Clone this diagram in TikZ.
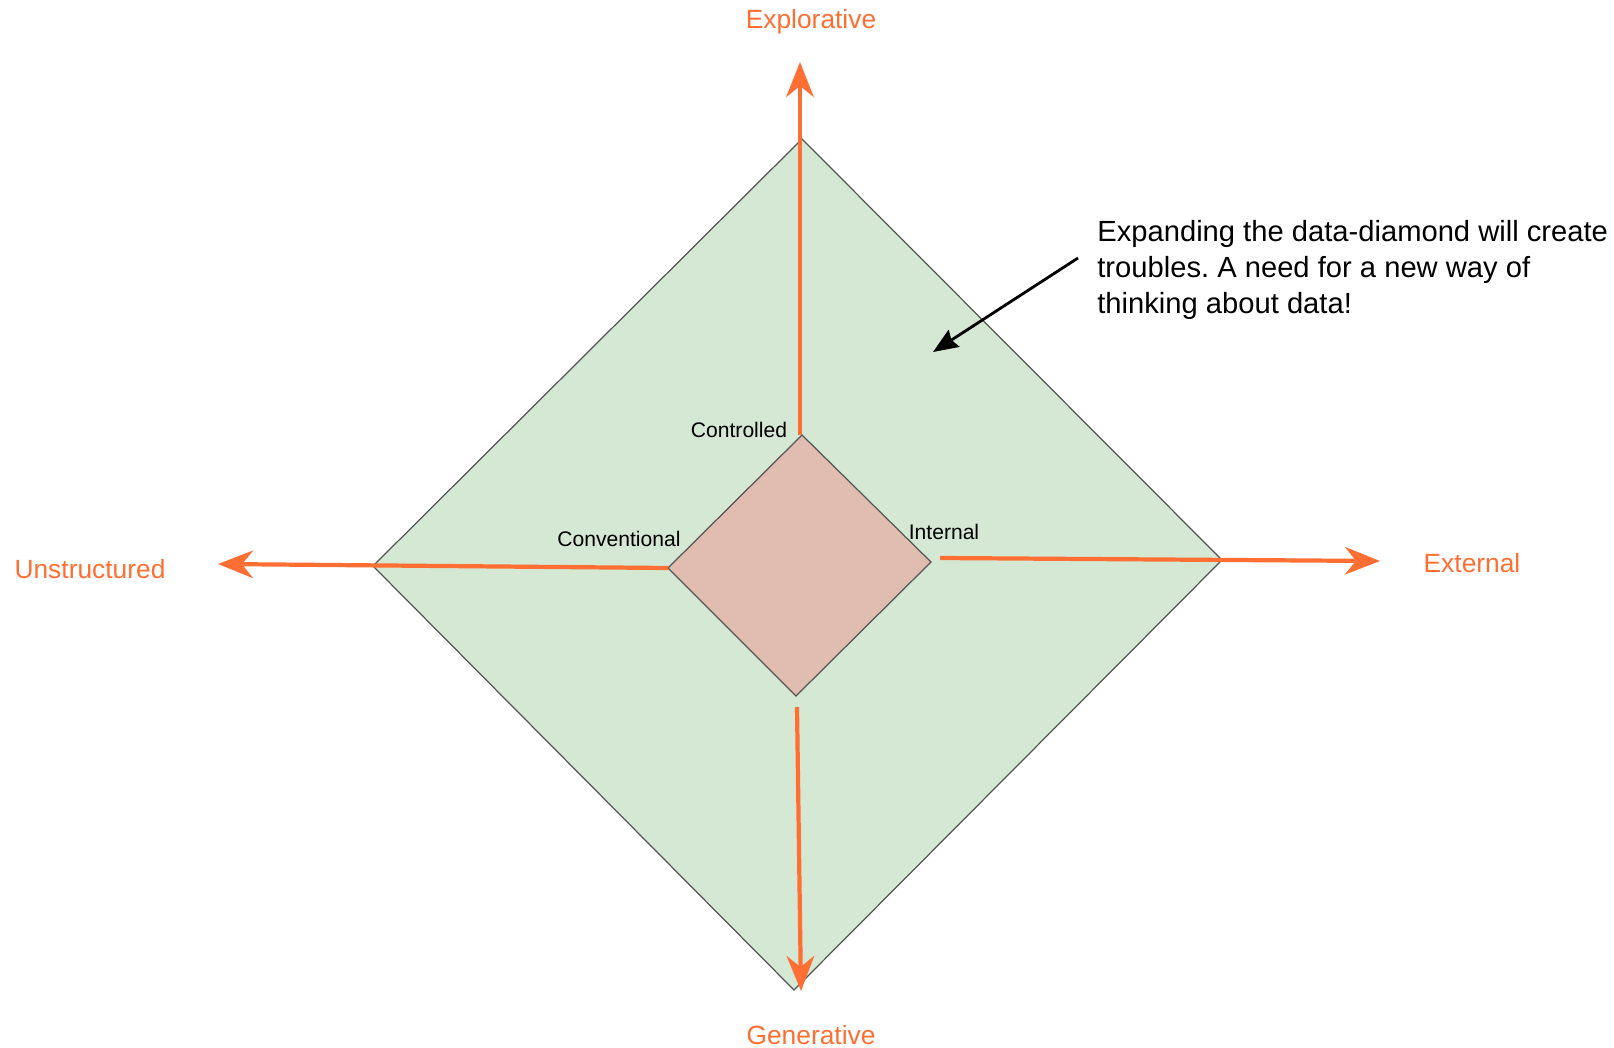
\documentclass[tikz,border=0pt]{standalone}
\usepackage{fontspec}
\setmainfont{Liberation Sans}
\frenchspacing
\usetikzlibrary{arrows.meta}
\definecolor{axisorange}{RGB}{255,110,50}
\definecolor{outerfill}{RGB}{213,232,212}
\definecolor{innerfill}{RGB}{224,189,176}
\definecolor{edgegray}{RGB}{85,85,85}
\begin{document}
\begin{tikzpicture}[x=0.02cm,y=-0.02cm]
\newcommand{\axislabel}{\node[text=axisorange, font=\fontsize{15}{18}\selectfont]}
\newcommand{\cornerlabel}{\node[font=\fontsize{12}{14}\selectfont]}
\tikzset{axis/.style={draw=axisorange, line width=2.4pt, -{Stealth[length=0.7cm, width=0.55cm, inset=0.22cm]}}}
\tikzset{diamondedge/.style={draw=edgegray, line width=0.7pt, line join=miter}}
    \useasboundingbox (0,0) rectangle (1614,1048);

    % outer diamond
    \coordinate (ot) at (802,139);
    \coordinate (or) at (1222,560);
    \coordinate (ob) at (794,990);
    \coordinate (ol) at (373,566);
    \draw[diamondedge, fill=outerfill] (ot) -- (or) -- (ob) -- (ol) -- cycle;

    % inner diamond
    \coordinate (it) at (802,435);
    \coordinate (ir) at (931,562);
    \coordinate (ib) at (796,696);
    \coordinate (il) at (668,568);
    \draw[diamondedge, fill=innerfill] (it) -- (ir) -- (ib) -- (il) -- cycle;

    % axes
    \coordinate (itx) at (800,435);
    \coordinate (ibx) at (797,707);
    \coordinate (irx) at (940,558);
    \coordinate (up) at (800,62);
    \coordinate (down) at (801,991);
    \coordinate (left) at (218,564);
    \coordinate (right) at (1380,561);
    \draw[axis] (itx) -- (up);
    \draw[axis] (ibx) -- (down);
    \draw[axis] (il) -- (left);
    \draw[axis] (irx) -- (right);

    \axislabel (explorative) at (811,22) {Explorative};
    \axislabel (generative) at (811,1035) {Generative};
    \axislabel (unstructured) at (90,569) {Unstructured};
    \axislabel (external) at (1472,563) {External};

    \cornerlabel (controlled) at (739,430) {Controlled};
    \cornerlabel (conventional) at (619,539) {Conventional};
    \cornerlabel (internal) at (944,532) {Internal};

    % note
    \node[anchor=north west, align=left, inner sep=0pt, font=\fontsize{16.6}{20.5}\selectfont] (note) at (1097,220) {Expanding the data-diamond will create\\troubles. A need for a new way of\\thinking about data!};
    \coordinate (notetip) at (933,352);
    \draw[line width=1.6pt, -{Stealth[length=0.5cm, width=0.4cm, inset=0.06cm]}] (1078,258) -- (notetip);
\end{tikzpicture}
\end{document}
